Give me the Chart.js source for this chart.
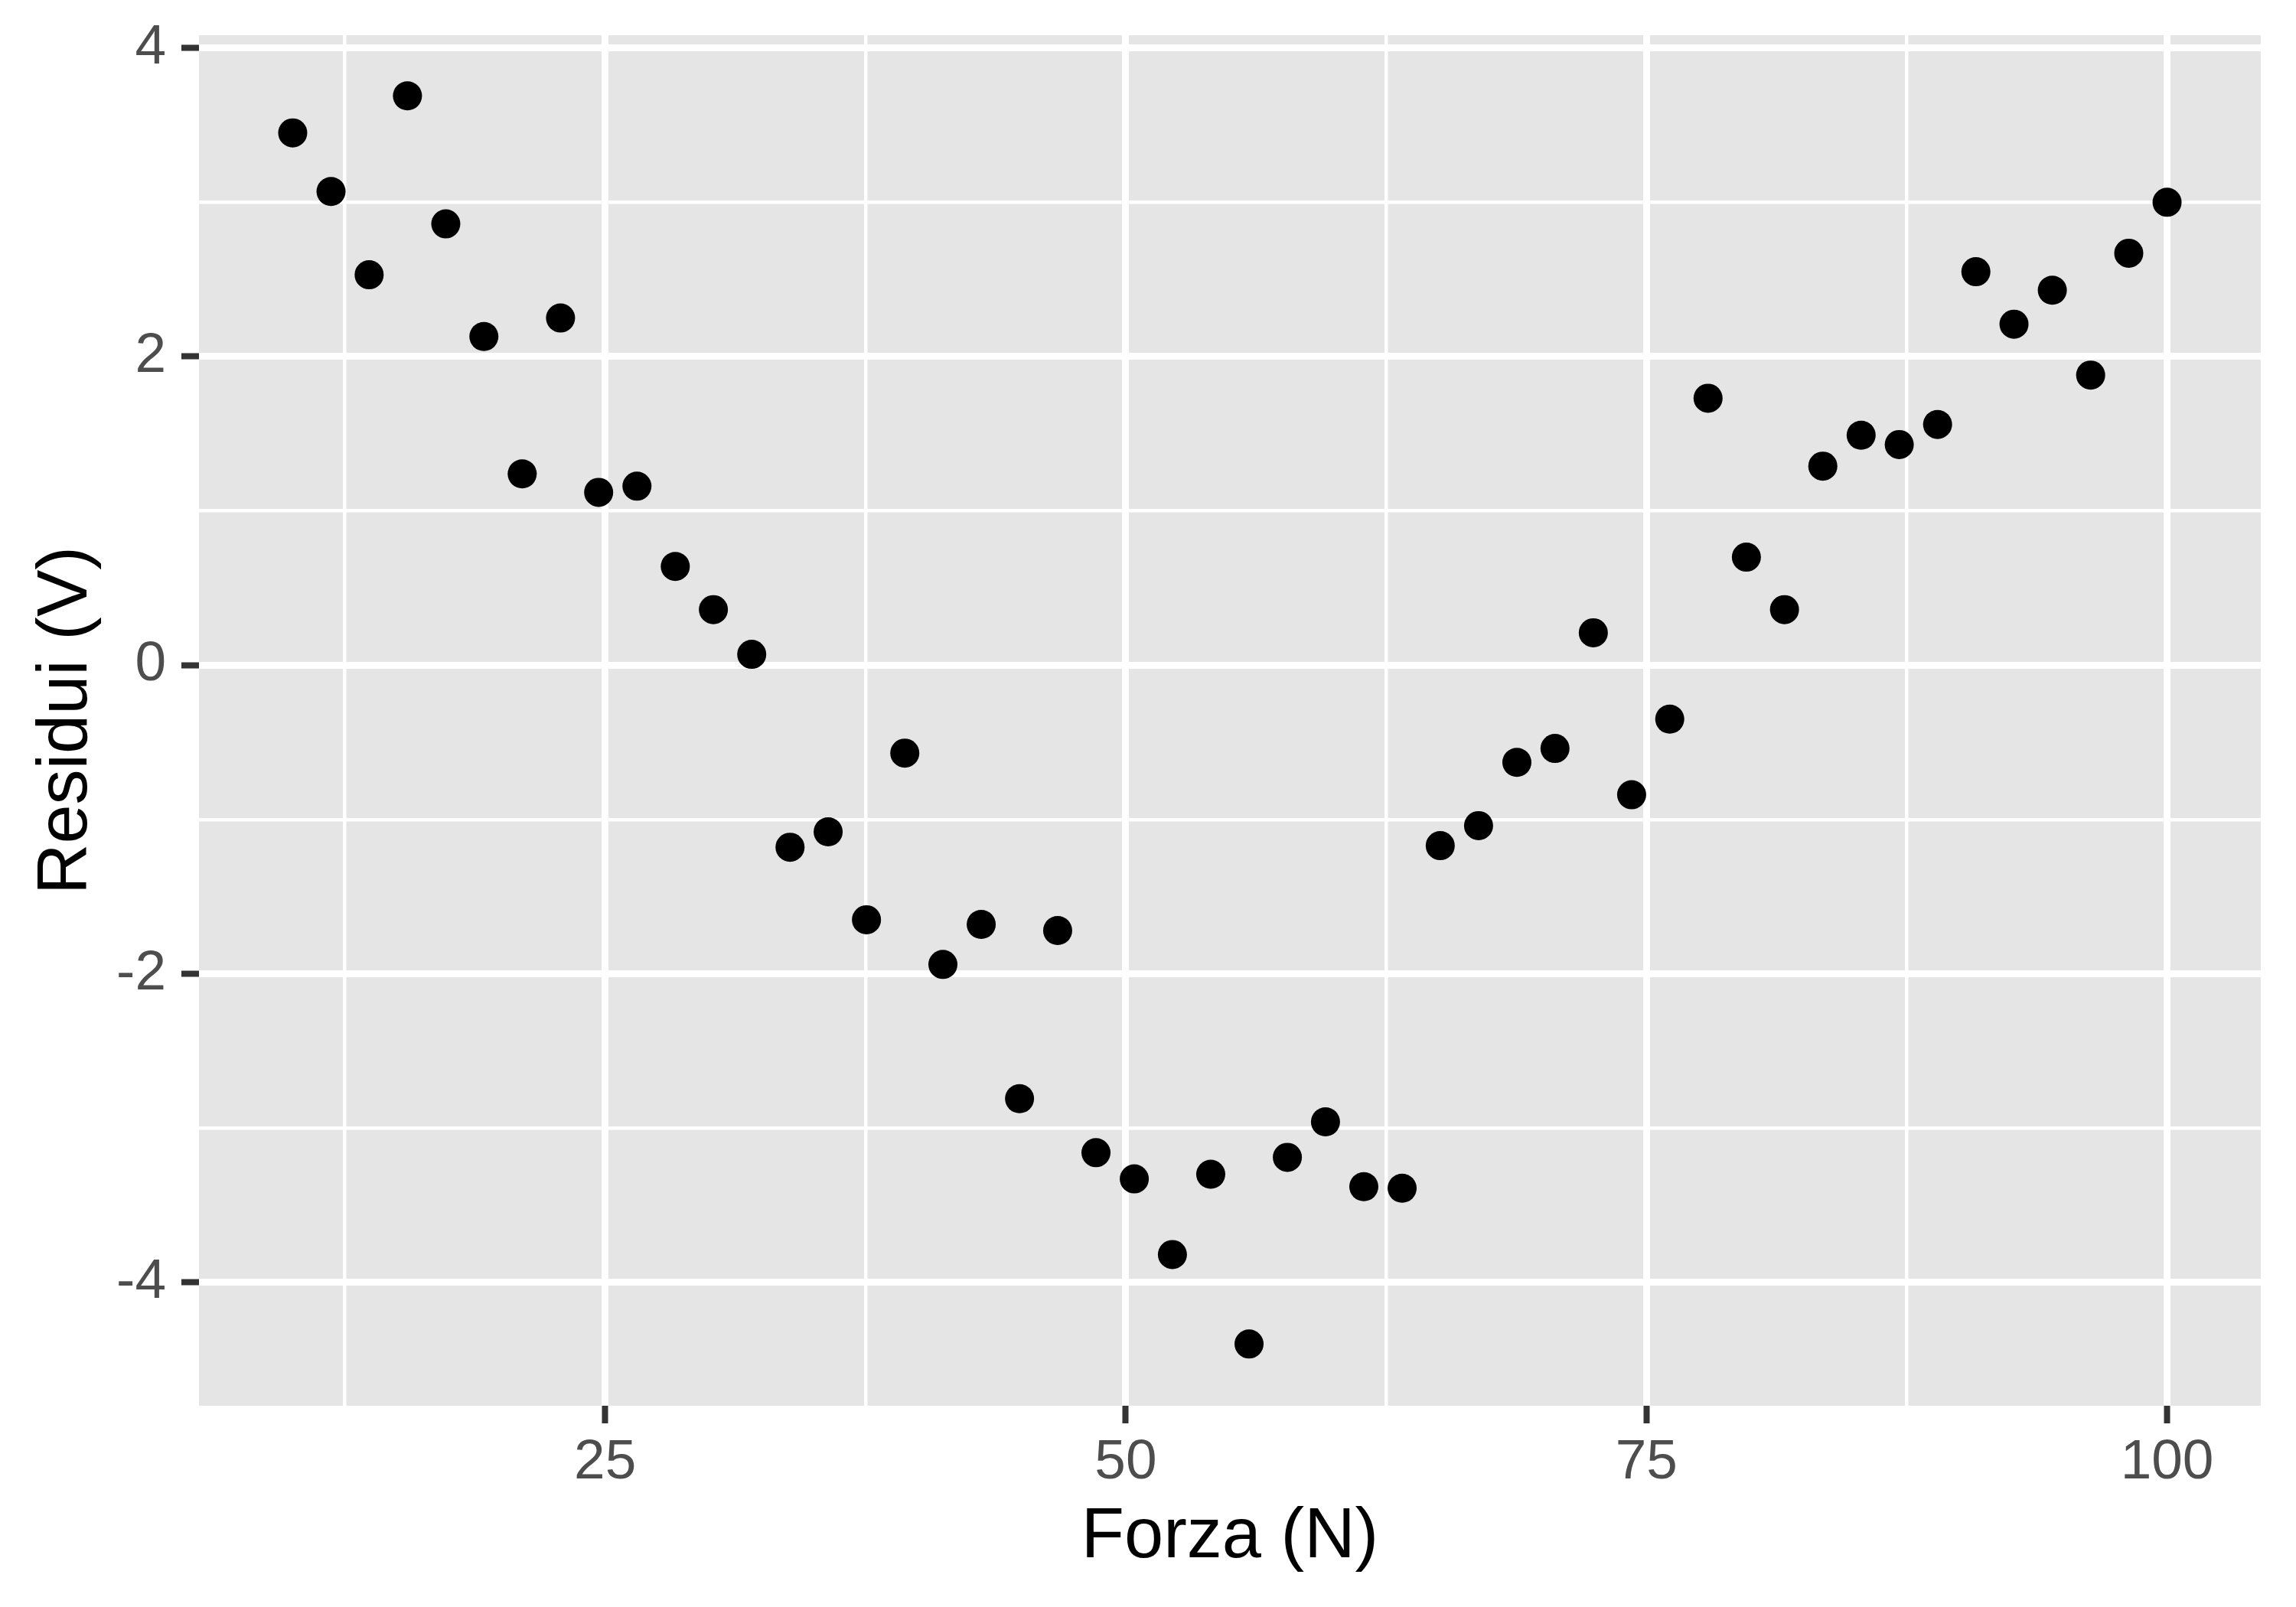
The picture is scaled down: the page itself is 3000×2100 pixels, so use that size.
<!DOCTYPE html>
<html>
<head>
<meta charset="utf-8">
<script src="https://cdn.jsdelivr.net/npm/chart.js@4"></script>
<style>
  body { margin: 0; background: #ffffff; }
</style>
</head>
<body>
<canvas id="residui-chart" width="3000" height="2100"></canvas>
<script>
// Forza (N)
const forza = [10, 11.84, 13.67, 15.51, 17.35, 19.18, 21.02, 22.86, 24.69, 26.53,
    28.37, 30.20, 32.04, 33.88, 35.71, 37.55, 39.39, 41.22, 43.06, 44.90,
    46.73, 48.57, 50.41, 52.24, 54.08, 55.92, 57.76, 59.59, 61.43, 63.27,
    65.10, 66.94, 68.78, 70.61, 72.45, 74.29, 76.12, 77.96, 79.80, 81.63,
    83.47, 85.31, 87.14, 88.98, 90.82, 92.65, 94.49, 96.33, 98.16, 100];
// Residui (V)
const residui = [3.45, 3.07, 2.53, 3.69, 2.86, 2.13, 1.24, 2.25, 1.12, 1.16,
    0.64, 0.36, 0.07, -1.18, -1.08, -1.65, -0.57, -1.94, -1.68, -2.81,
    -1.72, -3.16, -3.33, -3.82, -3.30, -4.40, -3.19, -2.96, -3.38, -3.39,
    -1.17, -1.04, -0.63, -0.54, 0.21, -0.84, -0.35, 1.73, 0.70, 0.36,
    1.29, 1.49, 1.43, 1.56, 2.55, 2.21, 2.43, 1.88, 2.67, 3.00];

const xTicks = [12.5, 25, 37.5, 50, 62.5, 75, 87.5, 100];
const xMajor = [25, 50, 75, 100];
const yTicks = [-4, -3, -2, -1, 0, 1, 2, 3, 4];
const yMajor = [-4, -2, 0, 2, 4];

const panelBg = {
    id: 'panelBg',
    beforeDraw(chart) {
        const a = chart.chartArea;
        const ctx = chart.ctx;
        ctx.save();
        ctx.fillStyle = '#E5E5E5';
        ctx.fillRect(a.left, a.top, a.right - a.left, a.bottom - a.top);
        ctx.restore();
    }
};

function gridFor(major) {
    return {
        color: '#FFFFFF',
        lineWidth: c => major.includes(c.tick.value) ? 9 : 4.5,
        tickColor: c => major.includes(c.tick.value) ? '#333333' : 'rgba(0,0,0,0)',
        tickWidth: 8,
        tickLength: 23,
        drawTicks: true
    };
}

new Chart(document.getElementById('residui-chart'), {
    type: 'scatter',
    data: {
        datasets: [{
            data: forza.map((f, i) => ({x: f, y: residui[i]})),
            backgroundColor: '#000000',
            borderWidth: 0,
            pointRadius: 19,
            pointHoverRadius: 19
        }]
    },
    options: {
        responsive: false,
        animation: false,
        layout: { padding: { top: 46, right: 46, left: 0, bottom: 0 } },
        plugins: {
            legend: { display: false },
            tooltip: { enabled: false }
        },
        scales: {
            x: {
                type: 'linear',
                min: 5.5,
                max: 104.5,
                afterBuildTicks: s => { s.ticks = xTicks.map(v => ({value: v})); },
                afterFit: s => { s.height = 263; s.paddingLeft = 0; s.paddingRight = 0; },
                border: { display: false },
                grid: gridFor(xMajor),
                ticks: {
                    color: '#4D4D4D',
                    padding: 8,
                    maxRotation: 0,
                    autoSkip: false,
                    font: { family: 'Liberation Sans', size: 73 },
                    callback: v => xMajor.includes(v) ? String(v) : ''
                },
                title: {
                    display: true,
                    text: 'Forza (N)',
                    color: '#000000',
                    font: { family: 'Liberation Sans', size: 92 },
                    padding: { top: 0, bottom: 35 }
                }
            },
            y: {
                type: 'linear',
                min: -4.80,
                max: 4.083,
                afterBuildTicks: s => { s.ticks = yTicks.map(v => ({value: v})); },
                afterFit: s => { s.width = 260; s.paddingTop = 0; s.paddingBottom = 0; },
                border: { display: false },
                grid: gridFor(yMajor),
                ticks: {
                    color: '#4D4D4D',
                    padding: 20,
                    autoSkip: false,
                    font: { family: 'Liberation Sans', size: 73 },
                    callback: v => yMajor.includes(v) ? String(v) : ''
                },
                title: {
                    display: true,
                    text: 'Residui (V)',
                    color: '#000000',
                    font: { family: 'Liberation Sans', size: 92 },
                    padding: { top: 32, bottom: 0 }
                }
            }
        }
    },
    plugins: [panelBg]
});
</script>
</body>
</html>
